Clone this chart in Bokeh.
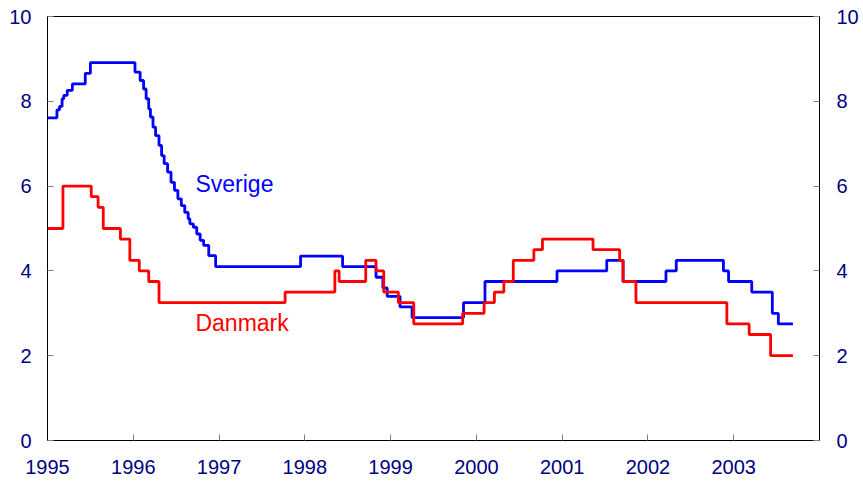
from bokeh.plotting import figure
from bokeh.models import Range1d, LinearAxis, FixedTicker, Label
from bokeh.embed import file_html
from bokeh.resources import INLINE

# Sverige (step start dates, values)
se_dates = [1995.00, 1995.11, 1995.14, 1995.17, 1995.19, 1995.23, 1995.29, 1995.44, 1995.50,
            1996.02, 1996.08, 1996.12, 1996.15, 1996.18, 1996.20, 1996.23, 1996.26, 1996.30,
            1996.33, 1996.36, 1996.40, 1996.44, 1996.48, 1996.52, 1996.56, 1996.60, 1996.64,
            1996.66, 1996.70, 1996.74, 1996.78, 1996.82, 1996.88, 1996.96,
            1997.95, 1998.44, 1998.83, 1998.91, 1998.96, 1999.11, 1999.25, 1999.85, 2000.10,
            2000.94, 2001.52, 2001.71, 2002.21, 2002.33, 2002.88, 2002.94, 2003.21, 2003.45,
            2003.52, 2003.69]
se_rates = [7.61, 7.80, 7.88, 8.06, 8.14, 8.26, 8.41, 8.66, 8.91,
            8.69, 8.49, 8.29, 8.06, 7.82, 7.63, 7.39, 7.19, 6.96,
            6.72, 6.53, 6.33, 6.09, 5.90, 5.70, 5.54, 5.38, 5.23,
            5.11, 5.03, 4.87, 4.72, 4.60, 4.36, 4.10,
            4.35, 4.10, 3.85, 3.60, 3.40, 3.15, 2.90, 3.25, 3.75,
            4.00, 4.25, 3.75, 4.00, 4.25, 4.00, 3.75, 3.50, 3.00,
            2.75, 2.75]

# Danmark (step start dates, values)
dk_dates = [1995.00, 1995.18, 1995.51, 1995.59, 1995.65, 1995.85, 1995.96, 1996.07, 1996.18,
            1996.30, 1997.77, 1998.35, 1998.40, 1998.71, 1998.83, 1998.92, 1999.09, 1999.27,
            1999.84, 2000.09, 2000.21, 2000.32, 2000.43, 2000.67, 2000.77, 2001.36, 2001.67,
            2001.71, 2001.86, 2002.92, 2003.18, 2003.43, 2003.69]
dk_rates = [5.00, 6.00, 5.75, 5.50, 5.00, 4.75, 4.25, 4.00, 3.75,
            3.25, 3.50, 4.00, 3.75, 4.25, 4.00, 3.50, 3.25, 2.75,
            3.00, 3.25, 3.50, 3.75, 4.25, 4.50, 4.75, 4.50, 4.25,
            3.75, 3.25, 2.75, 2.50, 2.00, 2.00]

years = [1995, 1996, 1997, 1998, 1999, 2000, 2001, 2002, 2003]
year_labels = ["1995", "1996", "1997", "1998", "1999", "2000", "2001", "2002", "2003"]
y_ticks = [0, 2, 4, 6, 8, 10]

FONT = "Liberation Sans"
LABEL_COLOR = "#000080"

p = figure(width=863, height=482, output_backend="svg", toolbar_location=None,
           x_range=Range1d(1995, 2004), y_range=Range1d(0, 10),
           min_border_left=47, min_border_top=16, min_border_right=44, min_border_bottom=42,
           y_axis_location=None)
p.xgrid.visible = False
p.ygrid.visible = False
p.outline_line_color = "black"
p.outline_line_width = 1
p.background_fill_color = "white"
p.border_fill_color = "white"

def style_axis(ax, standoff):
    ax.axis_line_color = "black"
    ax.axis_line_width = 1
    ax.major_tick_in = 6
    ax.major_tick_out = 0
    ax.major_tick_line_color = "#808080"
    ax.minor_tick_line_color = None
    ax.major_label_text_font = FONT
    ax.major_label_text_font_size = "20px"
    ax.major_label_text_color = LABEL_COLOR
    ax.major_label_standoff = standoff

xa = p.xaxis[0]
xa.ticker = FixedTicker(ticks=years)
xa.major_label_overrides = {y: l for y, l in zip(years, year_labels)}
style_axis(xa, 19)

left = LinearAxis(ticker=FixedTicker(ticks=y_ticks))
style_axis(left, 16)
p.add_layout(left, "left")
right = LinearAxis(ticker=FixedTicker(ticks=y_ticks))
style_axis(right, 17)
p.add_layout(right, "right")

p.step(se_dates, se_rates, mode="after", line_color="#0000FF", line_width=2.8)
p.step(dk_dates, dk_rates, mode="after", line_color="#FF0000", line_width=2.8)

p.add_layout(Label(x=1996.725, y=6.06, text="Sverige", text_color="#0000FF",
                   text_font=FONT, text_font_size="23px", text_baseline="middle"))
p.add_layout(Label(x=1996.725, y=2.76, text="Danmark", text_color="#FF0000",
                   text_font=FONT, text_font_size="23px", text_baseline="middle"))

open("out.html", "w").write(file_html(p, INLINE))
